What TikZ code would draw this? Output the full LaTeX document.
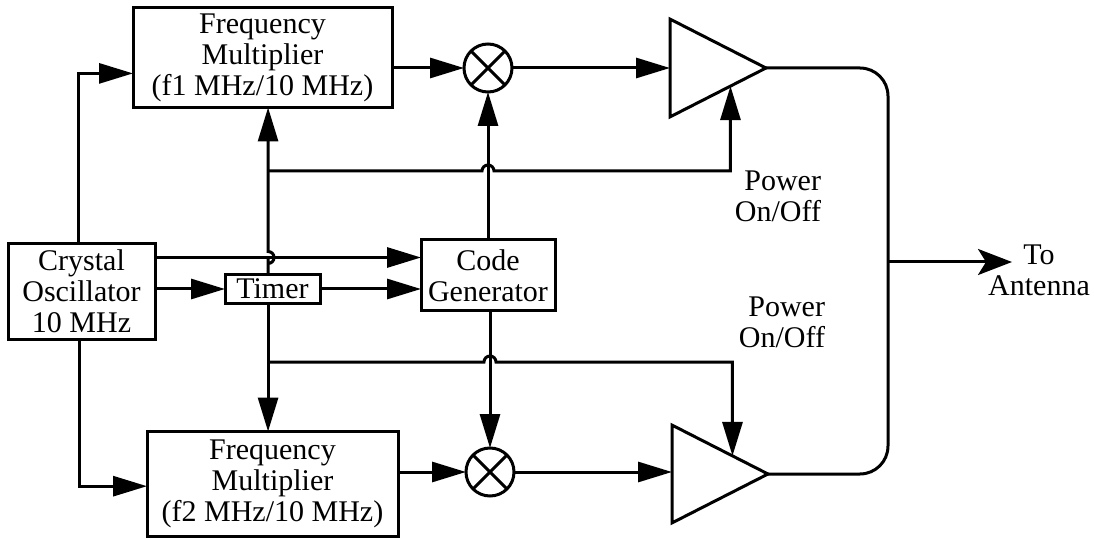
\documentclass[tikz,border=0pt]{standalone}
\usepackage{fontspec}
\setmainfont{Liberation Serif}
\usetikzlibrary{arrows.meta,positioning,calc,shapes.geometric}

\begin{document}
\begin{tikzpicture}[font=\fontsize{15}{15.5}\selectfont,>={Triangle[length=17pt,width=10pt]},line width=1.5pt,every node/.style={align=center},
  block/.style={draw,inner sep=0pt,outer sep=0pt},
  mixer/.style={draw,circle,inner sep=0pt,outer sep=0pt,minimum size=24pt,path picture={\draw (path picture bounding box.north west)--(path picture bounding box.south east) (path picture bounding box.north east)--(path picture bounding box.south west);}},
  amp/.style={draw,isosceles triangle,isosceles triangle apex angle=54,inner sep=0pt,outer sep=0pt,minimum height=48pt,minimum width=48pt}]
  \useasboundingbox (0,0) rectangle (547pt,-270pt);
  \node[block,minimum width=73.5pt,minimum height=47.5pt] (osc) at (40.75pt,-145.75pt) {Crystal\\Oscillator\\10 MHz};
  \node[block,minimum width=47.5pt,minimum height=14.5pt,right=35pt of osc,yshift=1.25pt] (timer) {Timer};
  \node[block,minimum width=67pt,minimum height=35.5pt,right=50.5pt of timer,yshift=6.75pt] (code) {Code\\Generator};
  \node[block,minimum width=129.5pt,minimum height=50pt,above=83.5pt of timer,xshift=-5pt] (fm1) {Frequency\\Multiplier\\(f1 MHz/10 MHz)};
  \node[block,minimum width=125.5pt,minimum height=52.5pt,below=64pt of timer] (fm2) {Frequency\\Multiplier\\(f2 MHz/10 MHz)};
  \node[mixer,above=74pt of code] (mix1) {};
  \node[mixer,below=68.5pt of code,xshift=1pt] (mix2) {};
  \node[amp,right=79pt of mix1] (amp1) {};
  \node[amp,right=79pt of mix2,yshift=-1pt] (amp2) {};
  \node[align=right] (pw1) at (389pt,-98pt) {Power\\On/Off};
  \node[align=right] (pw2) at (391pt,-161pt) {Power\\On/Off};
  \node (ant) at (519.5pt,-135pt) {To\\Antenna};
  \coordinate (bus) at (444pt,-131pt);
  \coordinate (tip) at (506pt,-131pt);
  \coordinate (hopa) at ($(code.west)+(0,9pt)$);
  \coordinate (hopb) at ($(code.north)+(0,34.5pt)$);
  \coordinate (hopc) at ($(mix2.north |- code.south)+(0,-25.5pt)$);
  \coordinate (pin1) at ($(amp1.apex)!.37!(amp1.right corner)$);
  \coordinate (pin2) at ($(amp2.apex)!.37!(amp2.left corner)$);
  \draw[->](osc.94) |- (fm1.187);
  \draw[->](osc.268) |- (fm2.181);
  \draw[->](osc.east |- hopa)--(hopa);
  \draw[->](osc.east |- timer.west)--(timer.west);
  \draw[->](timer.east)--(code.west |- timer.east);
  \draw[->](timer.107)--(timer.107 |- hopa) ++(0,-3pt) arc[start angle=-90,end angle=90,radius=3pt]--(timer.107 |- fm1.south);
  \draw[->](timer.253)--(timer.253 |- fm2.north);
  \draw[->](code.north)--(mix1.south);
  \draw[->](mix2.north |- code.south)--(mix2.north);
  \draw[->](timer.107 |- hopb)--($(hopb)+(-3pt,0)$) arc[start angle=180,end angle=0,radius=3pt] -| (pin1);
  \draw[->](timer.253 |- hopc)--($(hopc)+(-3pt,0)$) arc[start angle=180,end angle=0,radius=3pt] -| (pin2);
  \draw[->](fm1.east |- mix1.west)--(mix1.west);
  \draw[->](fm2.east |- mix2.west)--(mix2.west);
  \draw[->](mix1.east)--(mix1.east -| amp1.lower side);
  \draw[->](mix2.east)--(mix2.east -| amp2.lower side);
  \draw[rounded corners=14pt](amp1.apex) -| (bus) |- (amp2.apex);
  \draw[-{Stealth[length=17pt,width=13pt,inset=4pt]}](bus)--(tip);
\end{tikzpicture}
\end{document}
